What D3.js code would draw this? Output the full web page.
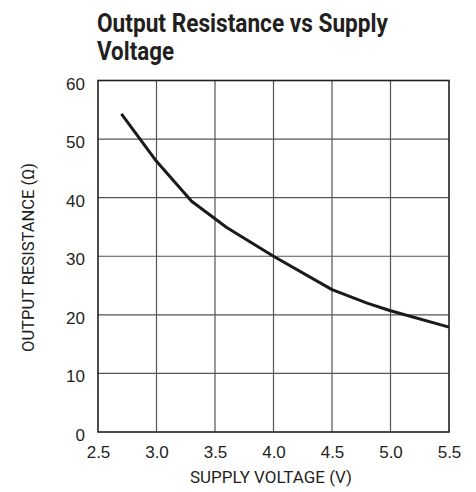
<!DOCTYPE html>
<html>
<head>
<meta charset="utf-8">
<script src="https://cdn.jsdelivr.net/npm/d3@7"></script>
<style>
  body { margin: 0; background: #fff; }
  svg { display: block; font-family: Roboto, "Liberation Sans", sans-serif; }
</style>
</head>
<body>
<svg id="chart"></svg>
<script>
// data
const supplyVoltage = [2.7, 3.0, 3.3, 3.6, 4.0, 4.5, 4.8, 5.0, 5.5];
const outputResistance = [54.3, 46.2, 39.4, 34.9, 30.0, 24.3, 22.0, 20.7, 17.9];
const xTicks = [2.5, 3.0, 3.5, 4.0, 4.5, 5.0, 5.5];
const yTicks = [0, 10, 20, 30, 40, 50, 60];
const titleLines = ["Output Resistance vs Supply", "Voltage"];

const width = 476, height = 492;
const margin = { top: 80.5, right: 27, bottom: 60, left: 98 };
const ink = "#231f20";

const svg = d3.select("#chart")
    .attr("width", width)
    .attr("height", height)
    .attr("viewBox", [0, 0, width, height]);

const x = d3.scaleLinear()
    .domain([2.5, 5.5])
    .range([margin.left, width - margin.right]);

const y = d3.scaleLinear()
    .domain([0, 60])
    .range([height - margin.bottom, margin.top]);

// title, condensed to match the narrow bold face
const titleLengths = [291, 77];
svg.append("g")
    .selectAll("text")
    .data(titleLines)
    .join("text")
      .attr("x", 97)
      .attr("y", (d, i) => 32 + i * 28)
      .attr("font-size", 26)
      .attr("font-weight", "bold")
      .attr("fill", ink)
      .attr("textLength", (d, i) => titleLengths[i])
      .attr("lengthAdjust", "spacingAndGlyphs")
      .text(d => d);

// grid
svg.append("g")
    .selectAll("line")
    .data(xTicks.slice(1, -1))
    .join("line")
      .attr("x1", d => x(d)).attr("x2", d => x(d))
      .attr("y1", y(0)).attr("y2", y(60))
      .attr("stroke", "#555")
      .attr("stroke-width", 1.2);

svg.append("g")
    .selectAll("line")
    .data(yTicks.slice(1, -1))
    .join("line")
      .attr("x1", x(2.5)).attr("x2", x(5.5))
      .attr("y1", d => y(d)).attr("y2", d => y(d))
      .attr("stroke", "#555")
      .attr("stroke-width", 1.2);

// frame
svg.append("rect")
    .attr("x", x(2.5))
    .attr("y", y(60))
    .attr("width", x(5.5) - x(2.5))
    .attr("height", y(0) - y(60))
    .attr("fill", "none")
    .attr("stroke", ink)
    .attr("stroke-width", 1.6);

// axes (labels only)
svg.append("g")
    .attr("transform", `translate(0,${y(0)})`)
    .call(d3.axisBottom(x).tickValues(xTicks).tickFormat(d3.format(".1f")).tickSize(0).tickPadding(0))
    .call(g => {
        g.select(".domain").remove();
        g.selectAll("text")
            .attr("y", 26).attr("dy", null)
            .attr("font-size", 17).attr("fill", ink)
            .attr("font-family", null);
    });

svg.append("g")
    .attr("transform", `translate(${x(2.5)},0)`)
    .call(d3.axisLeft(y).tickValues(yTicks).tickSize(0).tickPadding(13))
    .call(g => {
        g.select(".domain").remove();
        g.selectAll("text")
            .attr("dy", "0.5em")
            .attr("font-size", 17).attr("fill", ink)
            .attr("font-family", null);
    });

// axis titles
svg.append("text")
    .attr("x", 271)
    .attr("y", 483)
    .attr("text-anchor", "middle")
    .attr("font-size", 17)
    .attr("fill", ink)
    .attr("textLength", 162)
    .attr("lengthAdjust", "spacingAndGlyphs")
    .text("SUPPLY VOLTAGE (V)");

svg.append("text")
    .attr("transform", `translate(34,257.5) rotate(-90)`)
    .attr("text-anchor", "middle")
    .attr("font-size", 17)
    .attr("fill", ink)
    .attr("textLength", 189)
    .attr("lengthAdjust", "spacingAndGlyphs")
    .text("OUTPUT RESISTANCE (Ω)");

// curve
const line = d3.line()
    .x((d, i) => x(supplyVoltage[i]))
    .y(d => y(d));

svg.append("path")
    .datum(outputResistance)
    .attr("d", line)
    .attr("fill", "none")
    .attr("stroke", "#1a1a1a")
    .attr("stroke-width", 3)
    .attr("stroke-linejoin", "round");
</script>
</body>
</html>
